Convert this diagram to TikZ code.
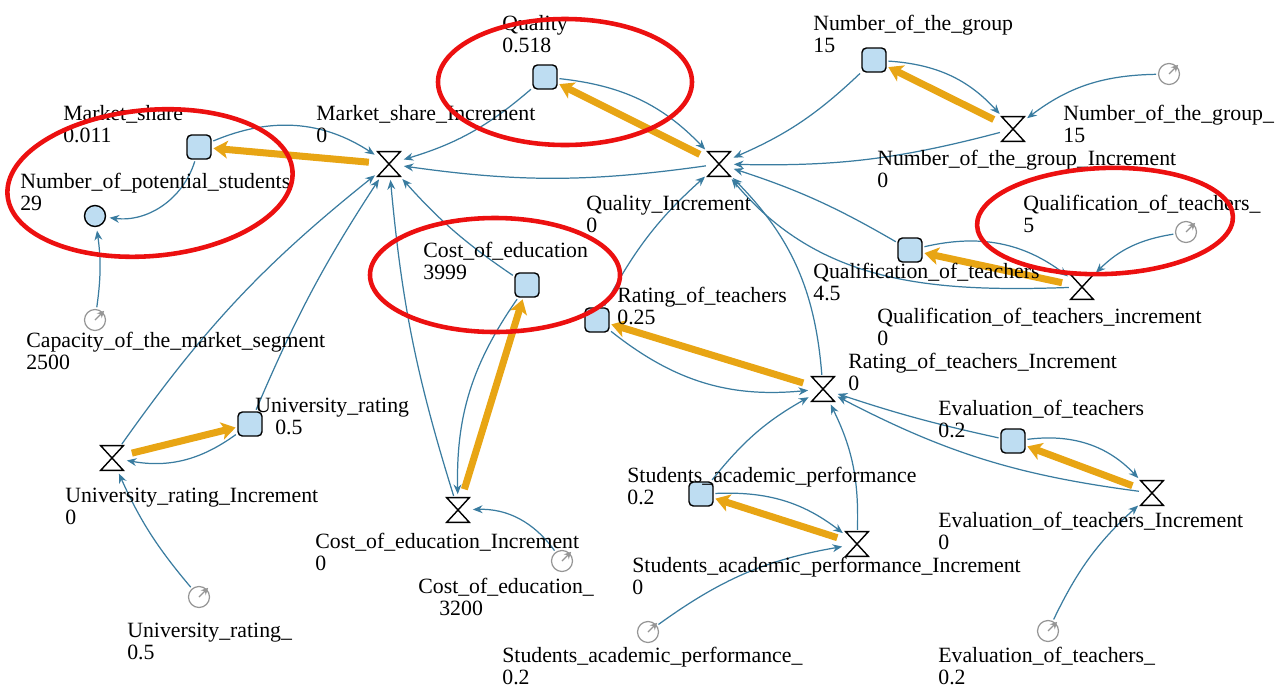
\documentclass[tikz,border=0pt]{standalone}
\usepackage{fontspec}
\setmainfont{Liberation Serif}
\usetikzlibrary{arrows.meta}
\definecolor{linkblue}{RGB}{58,124,160}
\definecolor{stockfill}{RGB}{190,221,242}
\definecolor{pipeorange}{RGB}{232,165,20}
\definecolor{markred}{RGB}{236,16,16}
\definecolor{dialgray}{RGB}{150,150,150}

\begin{document}
\begin{tikzpicture}[x=0.02cm,y=-0.02cm]
        \tikzstyle{stock}=[rectangle,rounded corners=2.5pt,draw=black,line width=0.8pt,fill=stockfill,minimum size=0.48cm,inner sep=0pt]
        \tikzstyle{flow}=[rectangle,minimum width=0.44cm,minimum height=0.48cm,inner sep=0pt]
        \tikzstyle{aux}=[circle,draw=black,line width=0.8pt,fill=stockfill,minimum size=0.42cm,inner sep=0pt]
        \tikzstyle{const}=[circle,draw=dialgray,line width=0.7pt,minimum size=0.42cm,inner sep=0pt]
        \tikzstyle{link}=[draw=linkblue,line width=0.7pt,-{Stealth[length=5.5pt,width=4.5pt]},shorten >=2pt,shorten <=1pt]
        \tikzstyle{pipe}=[draw=pipeorange,line width=4pt,-{Stealth[length=8pt,width=10pt,inset=2pt]},shorten <=5pt,shorten >=1pt]
        \tikzstyle{ring}=[draw=markred,line width=2.6pt]
        \tikzstyle{annot}=[anchor=north west,inner sep=0pt,align=left,font=\fontsize{12.4}{12.6}\selectfont]

        \useasboundingbox (0,0) rectangle (1283,684);

        % Draw the stocks
        \foreach \name / \x / \y in {share/199/147, quality/545/77, group/874/60, qual/910/250,
                rating/597/320, cost/527/285, univ/250/424, perf/701/494, eval/1013/441}
            \node[stock] (S-\name) at (\x,\y) {};

        % Draw the flows
        \foreach \name / \x / \y in {share/389/164, quality/719/164, group/1013/129, qual/1082/287,
                rating/823/389, cost/458/510, univ/112/458, perf/857/544, eval/1152/493}
            \node[flow] (F-\name) at (\x,\y) {};
        \foreach \name in {share,quality,group,qual,rating,cost,univ,perf,eval}
            \draw[line width=0.8pt,fill=white] (F-\name.north west) -- (F-\name.north east)
                -- (F-\name.south west) -- (F-\name.south east) -- cycle;

        % Draw the auxiliary and the constants
        \node[aux] (A-students) at (95,216) {};
        \foreach \name / \x / \y in {capacity/95/320, group/1169/74, qual/1186/232, univ/199/597,
                cost/562/561, perf/648/632, eval/1048/631}
            \node[const] (C-\name) at (\x,\y) {};
        \foreach \name in {capacity,group,qual,univ,cost,perf,eval}
            \draw[draw=dialgray,line width=0.7pt,-{Stealth[length=4pt,width=4pt]},fill=dialgray]
                (C-\name.center) -- ++(45:0.26cm);

        % Flows into the stocks
        \draw[pipe] (F-share) -- (S-share);
        \draw[pipe] (F-quality) -- (S-quality);
        \draw[pipe] (F-group) -- (S-group);
        \draw[pipe] (F-qual) -- (S-qual);
        \draw[pipe] (F-rating) -- (S-rating);
        \draw[pipe] (F-cost) -- (S-cost);
        \draw[pipe] (F-univ) -- (S-univ);
        \draw[pipe] (F-perf) -- (S-perf);
        \draw[pipe] (F-eval) -- (S-eval);

        % Connectors
        \draw[link] (S-share) to[bend left=28] (F-share);
        \draw[link] (S-share) to[bend left=40] (A-students);
        \draw[link] (C-capacity) to[bend right=8] (A-students);
        \draw[link] (S-quality) to[bend left=12] (F-share);
        \draw[link] (S-quality) to[bend left=20] (F-quality);
        \draw[link] (F-quality) to[bend left=8] (F-share);
        \draw[link] (S-group) to[bend left=10] (F-quality);
        \draw[link] (S-group) to[bend left=22] (F-group);
        \draw[link] (C-group) to[bend right=18] (F-group);
        \draw[link] (F-group) to[bend left=8] (F-quality);
        \draw[link] (S-qual) to[bend right=6] (F-quality);
        \draw[link] (F-qual) to[out=182,in=-50] (F-quality);
        \draw[link] (S-qual) to[bend left=25] (F-qual);
        \draw[link] (C-qual) to[bend right=18] (F-qual);
        \draw[link] (F-rating) to[bend right=20] (F-quality);
        \draw[link] (S-rating) to[bend left=10] (F-quality);
        \draw[link] (S-rating) to[bend right=22] (F-rating);
        \draw[link] (S-cost) to[bend left=7] (F-share);
        \draw[link] (F-cost) to[bend left=6] (F-share);
        \draw[link] (S-cost) to[bend right=18] (F-cost);
        \draw[link] (C-cost) to[bend right=28] (F-cost);
        \draw[link] (S-univ) to[bend left=5] (F-share);
        \draw[link] (F-univ) to[bend left=8] (F-share);
        \draw[link] (S-univ) to[bend left=23] (F-univ);
        \draw[link] (C-univ) to[bend left=8] (F-univ);
        \draw[link] (S-perf) to[bend left=11] (F-rating);
        \draw[link] (S-perf) to[bend left=20] (F-perf);
        \draw[link] (F-perf) to[bend right=14] (F-rating);
        \draw[link] (C-perf) to[bend left=13] (F-perf);
        \draw[link] (S-eval) to[bend left=3] (F-rating);
        \draw[link] (F-eval) to[bend left=10] (F-rating);
        \draw[link] (S-eval) to[bend left=27] (F-eval);
        \draw[link] (C-eval) to[bend left=11] (F-eval);

        % Annotate the variables
        \node[annot] (L-share) at (63,105) {Market\_share\\0.011};
        \node[annot] (L-students) at (20,173) {Number\_of\_potential\_students\\29};
        \node[annot] (L-capacity) at (26,332) {Capacity\_of\_the\_market\_segment\\2500};
        \node[annot] (L-shareinc) at (316,105) {Market\_share\_Increment\\0};
        \node[annot] (L-quality) at (502,15) {Quality\\0.518};
        \node[annot] (L-group) at (813,15) {Number\_of\_the\_group\\15};
        \node[annot] (L-groupc) at (1063,105) {Number\_of\_the\_group\_\\15};
        \node[annot] (L-groupinc) at (877,150) {Number\_of\_the\_group\_Increment\\0};
        \node[annot] (L-qualc) at (1023,195) {Qualification\_of\_teachers\_\\5};
        \node[annot] (L-qual) at (813,263) {Qualification\_of\_teachers\\4.5};
        \node[annot] (L-qualinc) at (877,308) {Qualification\_of\_teachers\_increment\\0};
        \node[annot] (L-ratinginc) at (848,353) {Rating\_of\_teachers\_Increment\\0};
        \node[annot] (L-qualityinc) at (586,195) {Quality\_Increment\\0};
        \node[annot] (L-rating) at (617,287) {Rating\_of\_teachers\\0.25};
        \node[annot] (L-cost) at (423,242) {Cost\_of\_education\\3999};
        \node[annot] (L-univ) at (255,398) {University\_rating\\\hspace*{0.4cm}0.5};
        \node[annot] (L-univinc) at (65,488) {University\_rating\_Increment\\0};
        \node[annot] (L-univc) at (127,623) {University\_rating\_\\0.5};
        \node[annot] (L-costinc) at (315,533) {Cost\_of\_education\_Increment\\0};
        \node[annot] (L-costc) at (418,578) {Cost\_of\_education\_\\\hspace*{0.42cm}3200};
        \node[annot] (L-perf) at (627,467) {Students\_academic\_performance\\0.2};
        \node[annot] (L-perfinc) at (632,557) {Students\_academic\_performance\_Increment\\0};
        \node[annot] (L-perfc) at (502,647) {Students\_academic\_performance\_\\0.2};
        \node[annot] (L-eval) at (938,400) {Evaluation\_of\_teachers\\0.2};
        \node[annot] (L-evalinc) at (938,512) {Evaluation\_of\_teachers\_Increment\\0};
        \node[annot] (L-evalc) at (938,647) {Evaluation\_of\_teachers\_\\0.2};

        % Highlight rings
        \draw[ring, rotate around={5:(150,183)}] (150,183) ellipse [x radius=143, y radius=73];
        \draw[ring] (565,82) ellipse [x radius=127, y radius=63];
        \draw[ring] (495,275) ellipse [x radius=125, y radius=57];
        \draw[ring, rotate around={2:(1105,221)}] (1105,221) ellipse [x radius=128, y radius=53];

\end{tikzpicture}
\end{document}
